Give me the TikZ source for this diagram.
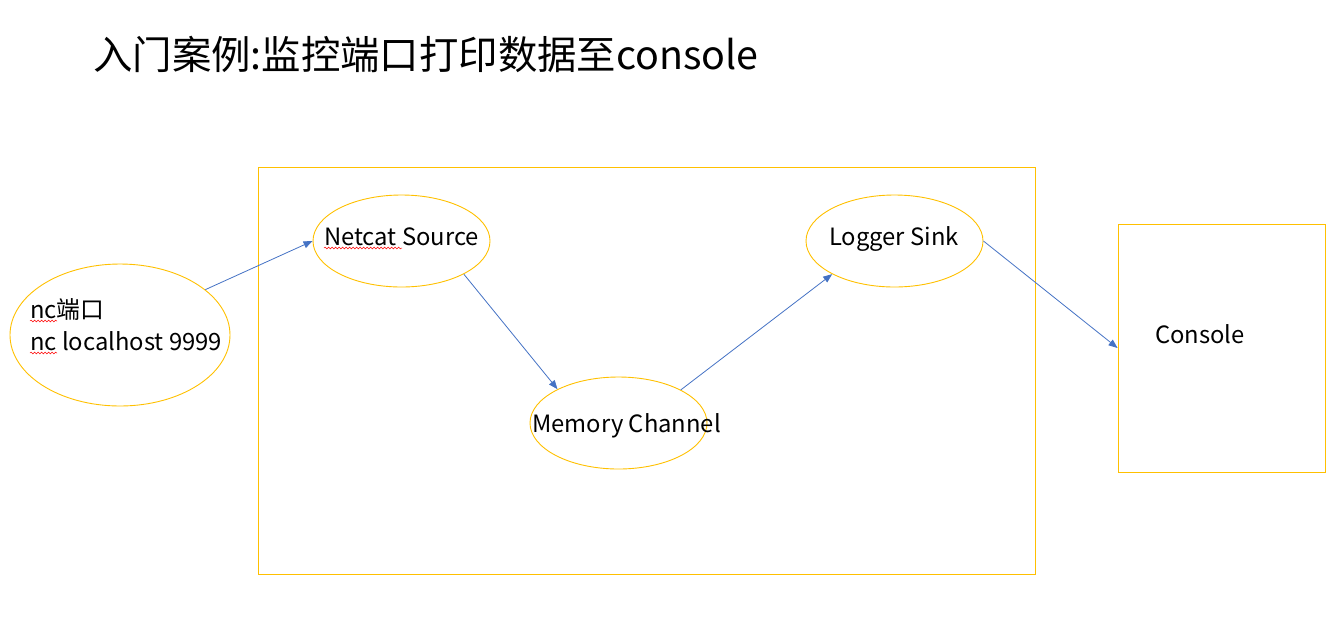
\documentclass[tikz,border=0pt]{standalone}
\usepackage{fontspec}
\setmainfont{Noto Sans CJK SC}
\usetikzlibrary{arrows.meta,decorations.pathmorphing,shapes.geometric}
\definecolor{yel}{HTML}{FFC000}
\definecolor{blu}{HTML}{4472C4}
\begin{document}
\begin{tikzpicture}[x=1pt,y=-1pt,
  ell/.style={draw=yel, line width=0.9pt, ellipse, inner sep=0pt},
  boxy/.style={draw=yel, line width=0.9pt, rectangle, inner sep=0pt},
  txt/.style={font=\fontsize{23.8}{28}\selectfont, inner sep=0pt, anchor=base west},
  conn/.style={draw=blu, line width=0.8pt, -{Triangle[length=9pt,width=7pt]}},
  squig/.style={draw=red, line width=0.5pt, decorate, decoration={snake, segment length=3.5pt, amplitude=0.9pt}}]
\useasboundingbox (0,0) rectangle (1344,622);
\node[font=\fontsize{39.4}{48}\selectfont, inner sep=0pt, anchor=base west] (title) at (93,69) {入门案例:监控端口打印数据至console};
\node[boxy, minimum width=777pt, minimum height=407pt] (flume) at (646.5,370.5) {};
\node[boxy, minimum width=207pt, minimum height=248pt] (console) at (1221.5,348) {};
\node[ell, minimum width=220pt, minimum height=142pt] (nc) at (120,335) {};
\node[ell, minimum width=177pt, minimum height=92pt] (src) at (401.5,241) {};
\node[ell, minimum width=177pt, minimum height=92pt] (chan) at (618.5,423) {};
\node[ell, minimum width=177pt, minimum height=92pt] (sink) at (894.5,241) {};
\node[txt] (nc1) at (30,318) {nc端口};
\node[txt] (nc2) at (30,350) {nc localhost 9999};
\node[txt] (srct) at (324,245) {Netcat Source};
\node[txt] (chant) at (532,432) {Memory Channel};
\node[txt] (sinkt) at (829,245) {Logger Sink};
\node[txt] (cont) at (1155,343) {Console};
\coordinate (q1a) at (30,321); \coordinate (q1b) at (57,321);
\coordinate (q2a) at (30,353); \coordinate (q2b) at (57,353);
\coordinate (q3a) at (324,248); \coordinate (q3b) at (402,248);
\draw[squig] (q1a) -- (q1b);
\draw[squig] (q2a) -- (q2b);
\draw[squig] (q3a) -- (q3b);
\draw[conn] (nc.28) -- (src.west);
\draw[conn] (src.-28) -- (chan.151.5);
\draw[conn] (chan.28) -- (sink.-152);
\draw[conn] (sink.east) -- (console.west);
\end{tikzpicture}
\end{document}
